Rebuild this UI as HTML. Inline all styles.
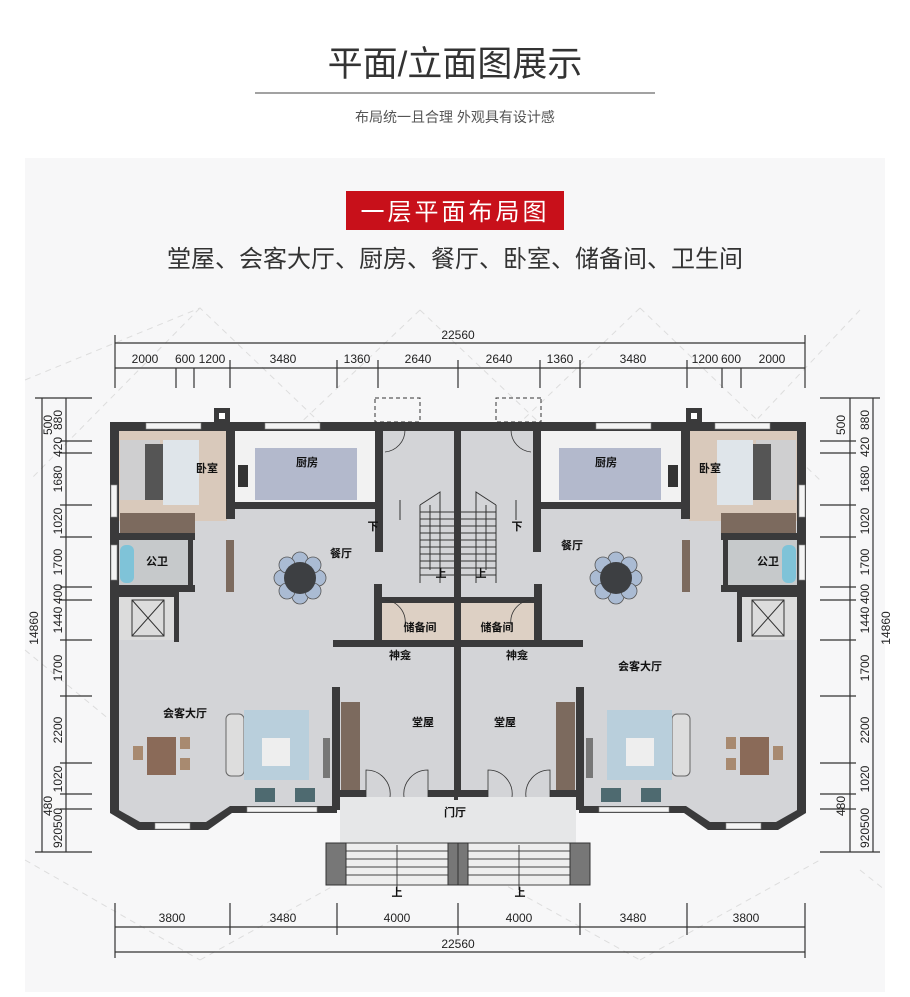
<!DOCTYPE html>
<html><head><meta charset="utf-8">
<style>
html,body{margin:0;padding:0;background:#fff;}
body{width:910px;height:992px;overflow:hidden;font-family:"Liberation Sans","Noto Sans CJK SC",sans-serif;}
svg text{font-family:"Liberation Sans","Noto Sans CJK SC",sans-serif;}
</style></head><body>
<svg width="910" height="992" viewBox="0 0 910 992" xmlns="http://www.w3.org/2000/svg">
<rect width="910" height="992" fill="#fff"/>
<text x="455" y="76" font-size="35" fill="#333" text-anchor="middle">平面/立面图展示</text>
<line x1="255" y1="93" x2="655" y2="93" stroke="#444" stroke-width="1"/>
<text x="455" y="122" font-size="14" fill="#555" text-anchor="middle">布局统一且合理  外观具有设计感</text>
<rect x="25" y="158" width="860" height="834" fill="#f7f7f8"/>
<rect x="346" y="191" width="218" height="39" fill="#c8101a"/>
<text x="455" y="220" font-size="24" fill="#fff" text-anchor="middle" font-family="Noto Serif CJK SC,serif" letter-spacing="3">一层平面布局图</text>
<text x="455" y="267" font-size="24" fill="#333" text-anchor="middle">堂屋、会客大厅、厨房、餐厅、卧室、储备间、卫生间</text>

<!-- faint diagonal dashes -->
<g stroke="#ddd" stroke-width="1" stroke-dasharray="6,5" fill="none">
<path d="M25 380 L200 308 L380 480 M200 308 L30 480 M420 310 L600 480 M420 310 L240 480 M640 308 L820 480 M640 308 L460 480 M860 310 L700 480"/>
<path d="M25 650 L110 720 M25 860 L200 960 M200 960 L380 860 M460 860 L640 960 M640 960 L820 860 M860 870 L885 890"/>
</g>

<!-- dimensions -->
<g stroke="#333" stroke-width="1.2" fill="none">
<line x1="115" y1="343" x2="805" y2="343"/>
<line x1="115" y1="335" x2="115" y2="388"/><line x1="805" y1="335" x2="805" y2="388"/>
<line x1="115" y1="368" x2="805" y2="368"/>
<path d="M176 368V388M194 368V388M230 360V388M337 360V388M378 360V388M458 360V388M540 360V388M580 360V388M687 360V388M722 368V388M741 368V388"/>
<line x1="115" y1="927" x2="805" y2="927"/>
<line x1="115" y1="952" x2="805" y2="952"/>
<path d="M115 903V958M230 903V935M337 903V935M458 903V935M580 903V935M687 903V935M805 903V958"/>
<line x1="42" y1="398" x2="42" y2="852"/><line x1="66" y1="398" x2="66" y2="852"/>
<path d="M35 398H92M60 441H92M60 453H92M60 505H92M60 537H92M60 587H92M60 600H92M60 640H92M60 696H92M60 763H92M60 794H92M60 809H92M35 852H92"/>
<line x1="850" y1="398" x2="850" y2="852"/><line x1="873" y1="398" x2="873" y2="852"/>
<path d="M820 398H880M820 441H856M820 453H856M820 505H856M820 537H856M820 587H856M820 600H856M820 640H856M820 696H856M820 763H856M820 794H856M820 809H856M820 852H880"/>
</g>
<g font-size="12" fill="#222" text-anchor="middle">
<text x="458" y="339">22560</text>
<text x="145" y="363">2000</text><text x="185" y="363">600</text><text x="212" y="363">1200</text><text x="283" y="363">3480</text><text x="357" y="363">1360</text><text x="418" y="363">2640</text>
<text x="499" y="363">2640</text><text x="560" y="363">1360</text><text x="633" y="363">3480</text><text x="705" y="363">1200</text><text x="731" y="363">600</text><text x="772" y="363">2000</text>
<text x="172" y="922">3800</text><text x="283" y="922">3480</text><text x="397" y="922">4000</text><text x="519" y="922">4000</text><text x="633" y="922">3480</text><text x="746" y="922">3800</text>
<text x="458" y="948">22560</text>
</g>
<g font-size="12" fill="#222" text-anchor="middle">
<g transform="translate(62,0)">
<text transform="translate(0,420) rotate(-90)">880</text><text transform="translate(0,447) rotate(-90)">420</text><text transform="translate(0,479) rotate(-90)">1680</text><text transform="translate(0,521) rotate(-90)">1020</text><text transform="translate(0,562) rotate(-90)">1700</text><text transform="translate(0,594) rotate(-90)">400</text><text transform="translate(0,620) rotate(-90)">1440</text><text transform="translate(0,668) rotate(-90)">1700</text><text transform="translate(0,730) rotate(-90)">2200</text><text transform="translate(0,779) rotate(-90)">1020</text><text transform="translate(0,818) rotate(-90)">500</text><text transform="translate(0,838) rotate(-90)">920</text>
</g>
<text transform="translate(52,425) rotate(-90)">500</text><text transform="translate(52,806) rotate(-90)">480</text>
<text transform="translate(38,628) rotate(-90)">14860</text>
<g transform="translate(869,0)">
<text transform="translate(0,420) rotate(-90)">880</text><text transform="translate(0,447) rotate(-90)">420</text><text transform="translate(0,479) rotate(-90)">1680</text><text transform="translate(0,521) rotate(-90)">1020</text><text transform="translate(0,562) rotate(-90)">1700</text><text transform="translate(0,594) rotate(-90)">400</text><text transform="translate(0,620) rotate(-90)">1440</text><text transform="translate(0,668) rotate(-90)">1700</text><text transform="translate(0,730) rotate(-90)">2200</text><text transform="translate(0,779) rotate(-90)">1020</text><text transform="translate(0,818) rotate(-90)">500</text><text transform="translate(0,838) rotate(-90)">920</text>
</g>
<text transform="translate(845,425) rotate(-90)">500</text><text transform="translate(845,806) rotate(-90)">480</text>
<text transform="translate(890,628) rotate(-90)">14860</text>
</g>

<!-- plan halves -->
<defs>
<g id="half">
  <!-- floor -->
  <path d="M110 422 H458 V800 H337 V812 H230 L206 828 H140 L110 810 Z" fill="#d3d4d7"/>
  <rect x="119" y="431" width="108" height="90" fill="#d9c9bb"/>
  <rect x="235" y="431" width="140" height="71" fill="#f2f2f2"/>
  <rect x="255" y="448" width="102" height="52" fill="#b3b9cc"/>
  <rect x="238" y="465" width="10" height="22" fill="#333"/>
  <rect x="119" y="540" width="72" height="45" fill="#c6c9cb"/>
  <rect x="120" y="545" width="14" height="38" rx="6" fill="#7fc3d8"/>
  <rect x="119" y="596" width="55" height="44" fill="#dcdcdc"/>
  <path d="M132 600 L164 636 M164 600 L132 636" stroke="#333" stroke-width="1"/>
  <rect x="132" y="600" width="32" height="36" fill="none" stroke="#333"/>
  <rect x="382" y="603" width="73" height="37" fill="#ddd0c4"/>
  <!-- bed -->
  <rect x="120" y="440" width="40" height="60" fill="#cfcfd0"/>
  <rect x="145" y="444" width="18" height="56" fill="#555"/>
  <rect x="163" y="440" width="36" height="65" fill="#dfe5ea"/>
  <rect x="120" y="513" width="75" height="20" fill="#7c6a5e"/>
  <!-- dining table -->
  <g fill="#aabbd3" stroke="#555" stroke-width="0.8">
   <circle cx="300" cy="560" r="8"/><circle cx="300" cy="596" r="8"/><circle cx="282" cy="578" r="8"/><circle cx="318" cy="578" r="8"/>
   <circle cx="287" cy="565" r="8"/><circle cx="313" cy="565" r="8"/><circle cx="287" cy="591" r="8"/><circle cx="313" cy="591" r="8"/>
  </g>
  <circle cx="300" cy="578" r="16" fill="#3d3f42"/>
  <!-- living furniture -->
  <rect x="226" y="714" width="18" height="62" rx="5" fill="#ddd" stroke="#666"/>
  <rect x="244" y="710" width="65" height="70" fill="#b9cfdc"/>
  <rect x="262" y="738" width="28" height="28" fill="#eee"/>
  <rect x="255" y="788" width="20" height="14" fill="#4e6a70"/>
  <rect x="295" y="788" width="20" height="14" fill="#4e6a70"/>
  <rect x="323" y="738" width="7" height="40" fill="#777"/>
  <rect x="147" y="737" width="29" height="38" fill="#8a6a58"/>
  <rect x="133" y="746" width="10" height="14" fill="#a88a70"/><rect x="180" y="737" width="10" height="12" fill="#a88a70"/><rect x="180" y="758" width="10" height="12" fill="#a88a70"/>
  <!-- stair -->
  <g stroke="#333" stroke-width="1" fill="none">
   <path d="M420 505 L440 492 V583 M420 505 V583"/>
   <path d="M420 512H455M420 519H455M420 526H455M420 533H455M420 540H455M420 547H455M420 554H455M420 561H455M420 568H455M420 575H455"/>
   <path d="M400 500 V520 M430 505 V570"/>
  </g>
  <!-- cabinet -->
  <rect x="341" y="702" width="19" height="88" fill="#7c6a5e"/>
  <!-- walls -->
  <g fill="#3a3a3b">
   <rect x="110" y="422" width="350" height="9"/>
   <rect x="110" y="422" width="9" height="390"/>
   <path d="M110 805 L140 822 H206 L230 806 H337 V813 H232 L208 830 H138 L110 813 Z"/>
   <rect x="226" y="431" width="9" height="88"/>
   <rect x="235" y="502" width="140" height="7"/>
   <rect x="375" y="422" width="8" height="130"/>
   <rect x="110" y="533" width="85" height="7"/>
   <rect x="110" y="585" width="85" height="7"/>
   <rect x="188" y="533" width="5" height="59"/>
   <rect x="110" y="592" width="65" height="5"/>
   <rect x="174" y="592" width="5" height="50"/>
   <rect x="374" y="584" width="8" height="63"/>
   <rect x="382" y="597" width="73" height="6"/>
   <rect x="333" y="640" width="127" height="7"/>
   <rect x="455" y="422" width="7" height="378"/>
   <rect x="332" y="687" width="8" height="123"/>
   <rect x="340" y="790" width="26" height="7"/>
   <rect x="428" y="790" width="30" height="7"/>
   <rect x="214" y="408" width="16" height="16"/>
  </g>
  <rect x="219" y="413" width="6" height="6" fill="#fff"/>
  <rect x="226" y="540" width="8" height="52" fill="#7c6a5e"/>
  <g fill="#f4f4f4" stroke="#888" stroke-width="0.6">
   <rect x="146" y="423" width="55" height="6"/><rect x="265" y="423" width="55" height="6"/>
   <rect x="111" y="485" width="6" height="32"/><rect x="111" y="545" width="6" height="35"/>
   <rect x="155" y="823" width="35" height="6"/><rect x="247" y="807" width="70" height="5"/>
  </g>
  <rect x="375" y="398" width="45" height="24" fill="none" stroke="#333" stroke-dasharray="4,3"/>
  <!-- door arcs -->
  <g fill="none" stroke="#333" stroke-width="0.8">
   <path d="M366 797 V770 A24 24 0 0 1 390 797 M428 797 V770 A24 24 0 0 0 404 797"/>
   <path d="M385 452 A22 22 0 0 0 405 430"/>
   <path d="M385 600 A22 22 0 0 1 405 625"/>
  </g>
  <!-- porch -->
  <rect x="340" y="797" width="118" height="48" fill="#e6e7e8"/>
  <rect x="346" y="843" width="112" height="42" fill="#eee" stroke="#444"/>
  <path d="M346 851H458M346 859H458M346 867H458M346 875H458M397 845V890" stroke="#444" stroke-width="1"/>
  <rect x="326" y="843" width="20" height="42" fill="#777" stroke="#333"/>
  <rect x="448" y="843" width="10" height="42" fill="#777" stroke="#333"/>
</g>
</defs>
<use href="#half"/>
<use href="#half" transform="translate(916,0) scale(-1,1)"/>

<g font-size="11" fill="#111" text-anchor="middle" font-weight="bold">
<text x="207" y="472">卧室</text><text x="307" y="466">厨房</text><text x="157" y="565">公卫</text><text x="341" y="557">餐厅</text>
<text x="373" y="530">下</text><text x="441" y="577">上</text><text x="420" y="631">储备间</text><text x="400" y="659">神龛</text>
<text x="185" y="717">会客大厅</text><text x="423" y="726">堂屋</text><text x="455" y="816">门厅</text><text x="397" y="896">上</text>
<text x="710" y="472">卧室</text><text x="606" y="466">厨房</text><text x="768" y="565">公卫</text><text x="572" y="549">餐厅</text>
<text x="517" y="530">下</text><text x="481" y="577">上</text><text x="497" y="631">储备间</text><text x="517" y="659">神龛</text>
<text x="640" y="670">会客大厅</text><text x="505" y="726">堂屋</text><text x="520" y="896">上</text>
</g>
</svg>
</body></html>
